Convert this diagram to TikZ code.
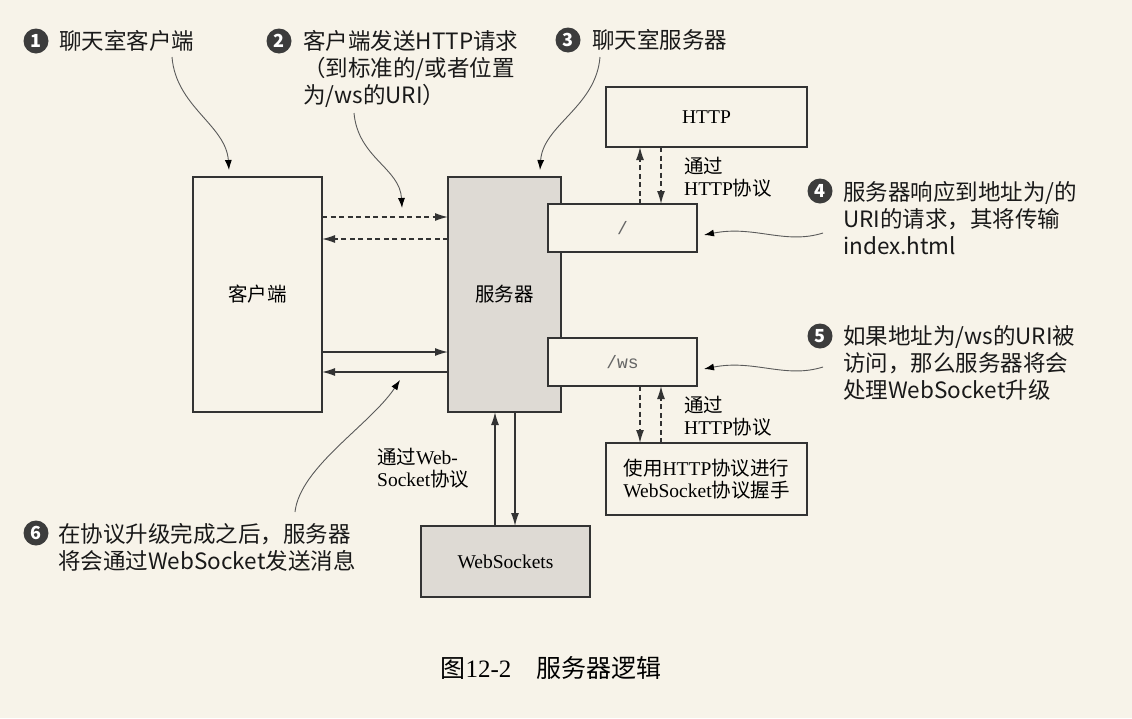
\documentclass[tikz,border=0pt]{standalone}
\usepackage{fontspec}
\setmainfont{Liberation Serif}
\setmonofont{Liberation Mono}
\newfontfamily\cjk{Noto Sans CJK SC}
\usetikzlibrary{arrows.meta}
\definecolor{bg}{HTML}{F7F3E9}
\definecolor{boxgray}{HTML}{DEDAD4}
\definecolor{linecol}{HTML}{333333}
\definecolor{numcol}{HTML}{3C3C3C}
\definecolor{callcol}{HTML}{5A5A5A}
\definecolor{monocol}{HTML}{666666}
\newcommand\zh[1]{{\cjk #1}}
\begin{document}
\begin{tikzpicture}[x=1pt,y=-1pt,
  box/.style={draw=linecol,line width=1.4pt,fill=bg,inner sep=0pt,outer sep=0pt,
    font=\fontsize{19.5}{22}\selectfont,align=center},
  graybox/.style={box,fill=boxgray},
  urlbox/.style={box,font=\ttfamily\fontsize{18}{20}\selectfont,text=monocol},
  flow/.style={line width=1.3pt,draw=linecol,-{Latex[length=13pt,width=8pt]}},
  dflow/.style={flow,dash pattern=on 5pt off 3.5pt},
  call/.style={draw=callcol,line width=0.9pt,-{Latex[length=10pt,width=7pt,color=black]}},
  num/.style={circle,fill=numcol,text=white,minimum size=25pt,inner sep=0pt,
    font=\cjk\bfseries\fontsize{18}{18}\selectfont},
  note/.style={inner sep=0pt,align=left,font=\cjk\fontsize{22.5}{27}\selectfont,text=black!90},
  lbl/.style={inner sep=0pt,align=left,font=\fontsize{19.5}{22}\selectfont}
]
\fill[bg] (0,0) rectangle (1132,718);
\useasboundingbox (0,0) rectangle (1132,718);

% boxes
\node[box,minimum width=129pt,minimum height=235pt] (client) at (257.5,294.5) {\zh{客户端}};
\node[graybox,minimum width=113pt,minimum height=235pt] (server) at (504.5,294.5) {\zh{服务器}};
\node[urlbox,minimum width=149pt,minimum height=48pt] (root) at (622.5,228) {/};
\node[urlbox,minimum width=149pt,minimum height=48pt] (wsroot) at (622.5,362) {/ws};
\node[box,minimum width=201pt,minimum height=60pt] (http) at (706.5,117) {HTTP};
\node[box,minimum width=201pt,minimum height=72pt] (hs) at (706.5,479)
  {\zh{使用}HTTP\zh{协议进行}\\WebSocket\zh{协议握手}};
\node[graybox,minimum width=169pt,minimum height=71pt] (wsk) at (505.5,561.5) {WebSockets};

% labels
\node[lbl,anchor=west] (l1) at (684,177) {\zh{通过}\\HTTP\zh{协议}};
\node[lbl,anchor=west] (l2) at (684,416) {\zh{通过}\\HTTP\zh{协议}};
\node[lbl,anchor=west] (l3) at (377,468) {\zh{通过}Web-\\Socket\zh{协议}};

% client <-> server
\draw[dflow] ([yshift=77.5pt]client.east) -- ([yshift=77.5pt]server.west);
\draw[dflow] ([yshift=55.5pt]server.west) -- ([yshift=55.5pt]client.east);
\draw[flow] ([yshift=-57.5pt]client.east) -- ([yshift=-57.5pt]server.west);
\draw[flow] ([yshift=-77.5pt]server.west) -- ([yshift=-77.5pt]client.east);

% vertical links
\draw[dflow] ([xshift=17.5pt]root.north) -- ([xshift=17.5pt]root.north |- http.south);
\draw[dflow] ([xshift=38.5pt]root.north |- http.south) -- ([xshift=38.5pt]root.north);
\draw[dflow] ([xshift=17.5pt]wsroot.south) -- ([xshift=17.5pt]wsroot.south |- hs.north);
\draw[dflow] ([xshift=38.5pt]wsroot.south |- hs.north) -- ([xshift=38.5pt]wsroot.south);
\draw[flow] ([xshift=-9.5pt]server.south |- wsk.north) -- ([xshift=-9.5pt]server.south);
\draw[flow] ([xshift=10.5pt]server.south) -- ([xshift=10.5pt]server.south |- wsk.north);

% annotations
\node[num] (n1) at (36,41) {1};
\node[note,anchor=west] (t1) at (59,41) {聊天室客户端};
\node[num] (n2) at (279,41) {2};
\node[note,anchor=west] (t2) at (303,69) {客户端发送HTTP请求\\（到标准的/或者位置\\为/ws的URI）};
\node[num] (n3) at (568,40) {3};
\node[note,anchor=west] (t3) at (592,40) {聊天室服务器};
\node[num] (n4) at (820,191) {4};
\node[note,anchor=west] (t4) at (843,218) {服务器响应到地址为/的\\URI的请求，其将传输\\index.html};
\node[num] (n5) at (820,336) {5};
\node[note,anchor=west] (t5) at (843,363) {如果地址为/ws的URI被\\访问，那么服务器将会\\处理WebSocket升级};
\node[num] (n6) at (36,533) {6};
\node[note,anchor=west] (t6) at (58,547) {在协议升级完成之后，服务器\\将会通过WebSocket发送消息};

% callout curves
\coordinate (c1s) at (172,57);
\coordinate (c2s) at (354,113);
\coordinate (c2e) at (402,208);
\coordinate (c3s) at (600,57);
\coordinate (c4s) at (823,233);
\coordinate (c5s) at (823,367);
\coordinate (c6s) at (295,512);
\coordinate (c6e) at (400,380);
\draw[call] (c1s) .. controls +(4,50) and +(-3,-45) .. ([xshift=-28.5pt,yshift=7pt]client.north);
\draw[call] (c2s) .. controls +(4,45) and +(-2,-40) .. (c2e);
\draw[call] (c3s) .. controls +(-4,50) and +(3,-45) .. ([xshift=35.5pt,yshift=7pt]server.north);
\draw[call] (c4s) .. controls +(-38,12) and +(50,-10) .. ([xshift=7pt,yshift=-7pt]root.east);
\draw[call] (c5s) .. controls +(-38,12) and +(50,-10) .. ([xshift=7pt,yshift=-7pt]wsroot.east);
\draw[call] (c6s) .. controls +(5,-45) and +(-30,45) .. (c6e);

% caption
\node[inner sep=0pt,font=\fontsize{25}{25}\selectfont] (cap) at (551,668) {\zh{图}12-2\hspace{1em}\zh{服务器逻辑}};
\end{tikzpicture}
\end{document}
